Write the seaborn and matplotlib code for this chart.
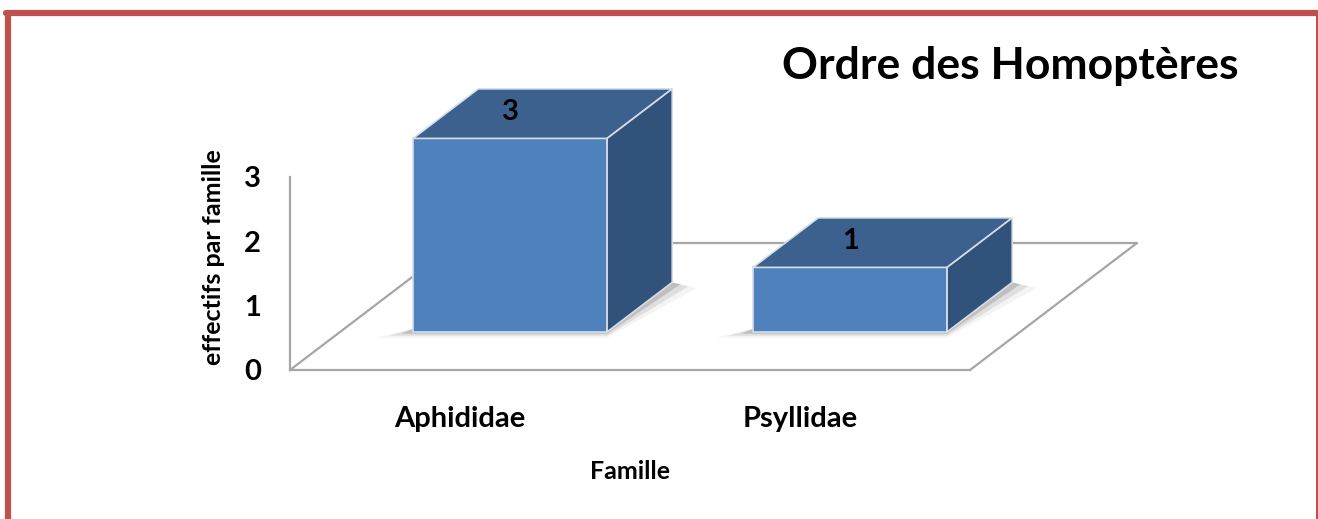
import numpy as np
import matplotlib.pyplot as plt
from matplotlib.patches import Polygon
from matplotlib.lines import Line2D
import seaborn as sns

sns.set_theme(style='white')
plt.rcParams['font.family'] = ['Lato', 'DejaVu Sans']
plt.rcParams['font.weight'] = 'bold'

familles = ["Aphididae", "Psyllidae"]
effectifs = [3, 1]
y_ticks = [0, 1, 2, 3]
titre = "Ordre des Homoptères"

front_col = '#4F81BD'
top_col = '#3C618E'
side_col = '#31527A'
edge_col = '#D6DEE8'
grid_col = '#A6A6A6'

W, H = 1318, 519
fig = plt.figure(figsize=(W / 100, H / 100), dpi=100)

# axes box in pixels, front plane: cat c -> 460 + 340c ; value v -> 370 - 64.5v
L, R, T, B = 200, 1200, 40, 420
ax = fig.add_axes([L / W, 1 - B / H, (R - L) / W, (B - T) / H])

# depth vector (one full floor depth) in data units
DX = 167 / 340
DY = 127 / 64.5
bar_d0, bar_d1 = 0.30, 0.69

sns.barplot(x=familles, y=effectifs, ax=ax, width=194 / 340, color=front_col,
            saturation=1, edgecolor=edge_col, linewidth=1.2, zorder=3)

ax.set_xlim((L - 460) / 340, (R - 460) / 340)
ax.set_ylim((370 - B) / 64.5, (370 - T) / 64.5)

# floor parallelogram (back lines)
fl = [(-0.5, 0), (1.5, 0), (1.5 + DX, DY), (-0.5 + DX, DY)]
for a, b in [(1, 2), (2, 3), (3, 0)]:
    ax.plot([fl[a][0], fl[b][0]], [fl[a][1], fl[b][1]], color=grid_col, lw=1.6, zorder=1)

# push front faces into depth and add top / side faces
dd = bar_d1 - bar_d0
for p in ax.patches[:len(effectifs)]:
    p.set_x(p.get_x() + bar_d0 * DX)
    p.set_y(p.get_y() + bar_d0 * DY)
    x0, y0, w, h = p.get_x(), p.get_y(), p.get_width(), p.get_height()
    ox, oy = dd * DX, dd * DY
    # soft shadow under the bottom edges
    for k, a in enumerate([0.18, 0.10, 0.05]):
        sx, sy = 0.012 * (k + 1), 0.03 * (k + 1)
        ax.add_patch(Polygon([(x0 - 3 * sx, y0 - sy), (x0 + w, y0 - sy),
                              (x0 + w + ox + 2 * sx, y0 + oy - sy),
                              (x0 + w + ox, y0 + oy), (x0, y0 + 0.05)],
                             closed=True, fc='#303030', ec='none', alpha=a, zorder=2))
    ax.add_patch(Polygon([(x0, y0 + h), (x0 + w, y0 + h), (x0 + w + ox, y0 + h + oy),
                          (x0 + ox, y0 + h + oy)], closed=True, fc=top_col,
                         ec=edge_col, lw=1.2, zorder=3))
    ax.add_patch(Polygon([(x0 + w, y0), (x0 + w + ox, y0 + oy), (x0 + w + ox, y0 + h + oy),
                          (x0 + w, y0 + h)], closed=True, fc=side_col,
                         ec=edge_col, lw=1.2, zorder=3))

ax.bar_label(ax.containers[0], fmt='%d', padding=10, fontsize=21, fontweight='bold',
             color='black', zorder=5)

# axes: front-left vertical and front floor edge
sns.despine(ax=ax, top=True, right=True)
ax.spines['left'].set_position(('data', -0.5))
ax.spines['left'].set_bounds(0, 3)
ax.spines['bottom'].set_position(('data', 0))
ax.spines['bottom'].set_bounds(-0.5, 1.5)
for s in ['left', 'bottom']:
    ax.spines[s].set_color(grid_col)
    ax.spines[s].set_linewidth(1.6)

ax.set_yticks(y_ticks)
ax.set_yticklabels([str(t) for t in y_ticks])
ax.tick_params(axis='y', length=0, pad=21, labelsize=21, labelcolor='black')
ax.tick_params(axis='x', length=0, pad=26, labelsize=21, labelcolor='black')
for lab in ax.get_xticklabels() + ax.get_yticklabels():
    lab.set_fontweight('bold')

ax.set_xlabel("Famille", fontsize=18, fontweight='bold', color='black')
ax.xaxis.set_label_coords((630 - L) / (R - L), (B - 460) / (B - T))
ax.set_ylabel("effectifs par famille", fontsize=18, fontweight='bold', color='black')
ax.yaxis.set_label_coords((225 - L) / (R - L), (B - 257) / (B - T))

fig.text(1238 / W, 1 - 79 / H, titre, ha='right', va='baseline',
         fontsize=32, fontweight='bold', color='black')

# red frame (bottom edge runs off the picture)
fig.add_artist(Line2D([8 / W, 8 / W], [-0.1, 1 - 13 / H], transform=fig.transFigure,
                      color='#C0504D', lw=4.5))
fig.add_artist(Line2D([6 / W, 1317 / W], [1 - 13 / H, 1 - 13 / H], transform=fig.transFigure,
                      color='#C0504D', lw=4.5))
fig.add_artist(Line2D([1316.5 / W, 1316.5 / W], [-0.1, 1 - 13 / H], transform=fig.transFigure,
                      color='#C0504D', lw=2.2))

fig.savefig('out.png', dpi=100)
